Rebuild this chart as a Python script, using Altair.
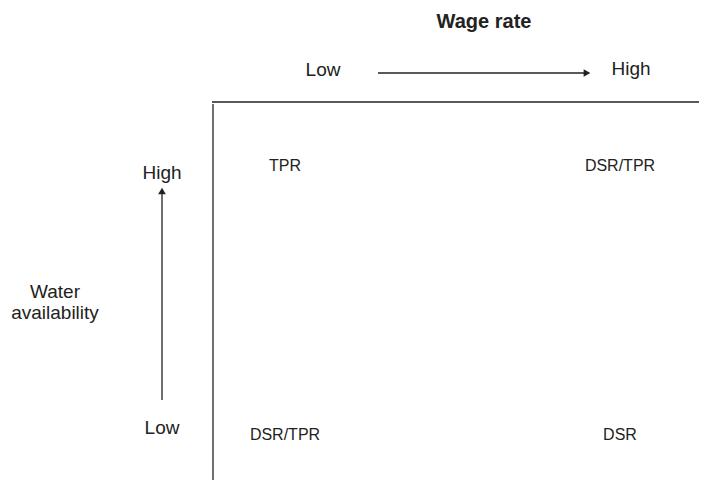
import altair as alt
import pandas as pd

W, H = 691, 472
FONT = "Liberation Sans"

# Text labels (diagram coordinates: x from left, y from top)
text_labels = ["Wage rate", "Low", "High", "High", "Water", "availability", "Low",
               "TPR", "DSR/TPR", "DSR/TPR", "DSR"]
text_x = [476, 315, 623, 154, 47, 47, 154, 277, 612, 277, 612]
text_y = [14, 62, 61, 165, 284, 305, 420, 158, 158, 427, 427]
text_size = [20, 19, 19, 19, 19, 19, 19, 16, 16, 16, 16]
text_weight = ["bold"] + ["normal"] * 10

# Lines: (x, y) -> (x2, y2)
line_x = [204, 205, 370, 154]
line_y = [94, 96, 65, 392]
line_x2 = [692, 205, 576, 154]
line_y2 = [94, 478, 65, 186]

# Arrowheads
head_x = [579, 154]
head_y = [65, 183]
head_shape = ["triangle-right", "triangle-up"]

texts = pd.DataFrame({"label": text_labels, "x": text_x, "y": text_y,
                      "size": text_size, "weight": text_weight})
lines = pd.DataFrame({"x": line_x, "y": line_y, "x2": line_x2, "y2": line_y2})
heads = pd.DataFrame({"x": head_x, "y": head_y, "shape": head_shape})

xs = alt.Scale(domain=[0, W], range=[0, W], nice=False, zero=False)
ys = alt.Scale(domain=[0, H], range=[0, H], nice=False, zero=False)

rules = alt.Chart(lines).mark_rule(color="#222222", strokeWidth=1.3).encode(
    x=alt.X("x:Q", scale=xs, axis=None),
    y=alt.Y("y:Q", scale=ys, axis=None),
    x2="x2:Q", y2="y2:Q",
)

arrows = alt.Chart(heads).mark_point(filled=True, color="#222222", size=60, opacity=1).encode(
    x=alt.X("x:Q", scale=xs, axis=None),
    y=alt.Y("y:Q", scale=ys, axis=None),
    shape=alt.Shape("shape:N", scale=None, legend=None),
)

def text_layer(weight, size):
    sub = texts[(texts["weight"] == weight) & (texts["size"] == size)]
    return alt.Chart(sub).mark_text(font=FONT, fontSize=size, fontWeight=weight,
                                    color="#222222", align="center", baseline="middle").encode(
        x=alt.X("x:Q", scale=xs, axis=None),
        y=alt.Y("y:Q", scale=ys, axis=None),
        text="label:N",
    )

chart = alt.layer(
    rules, arrows,
    text_layer("bold", 20), text_layer("normal", 19), text_layer("normal", 16),
).properties(
    width=W, height=H, padding=0, background="white",
    autosize=alt.AutoSizeParams(type="none"),
).configure_view(stroke="transparent", strokeWidth=0)

chart.save("out.html", embed_options={"renderer": "svg", "actions": False})
